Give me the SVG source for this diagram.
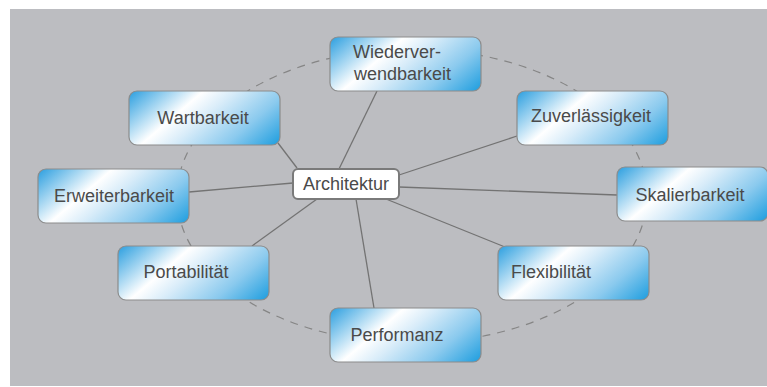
<svg xmlns="http://www.w3.org/2000/svg" width="767" height="387" viewBox="0 0 767 387">
  <defs>
    <linearGradient id="g" x1="0" y1="0" x2="1.2" y2="0.5">
      <stop offset="0" stop-color="#2a9edf"/>
      <stop offset="0.35" stop-color="#ffffff"/>
      <stop offset="0.5" stop-color="#d8ecf9"/>
      <stop offset="0.75" stop-color="#8bcaee"/>
      <stop offset="1" stop-color="#1f9edf"/>
    </linearGradient>
    <style>
      .n { fill: url(#g); stroke: #8c8c8c; stroke-width: 1.2; }
      .c { fill: #ffffff; stroke: #7a7a7a; stroke-width: 2; }
      .t { font-family: "Liberation Sans", Arial, sans-serif; font-size: 18px; fill: #4a4a4a; text-anchor: middle; }
      .l { stroke: #737373; stroke-width: 1.3; fill: none; }
      .d { stroke: #858585; stroke-width: 1.2; fill: none; stroke-dasharray: 8 7; }
    </style>
  </defs>
  <rect x="0" y="0" width="767" height="387" fill="#ffffff"/>
  <rect x="10" y="9" width="757" height="377" fill="#bcbdc1"/>
  <g id="connectors">
    <ellipse class="d" cx="412" cy="196" rx="235" ry="147"/>
    <line class="l" x1="339" y1="169" x2="377" y2="91"/>
    <line class="l" x1="297" y1="168" x2="278" y2="143"/>
    <line class="l" x1="399" y1="175" x2="517" y2="136"/>
    <line class="l" x1="293" y1="183" x2="189" y2="192"/>
    <line class="l" x1="399" y1="187" x2="617" y2="195"/>
    <line class="l" x1="317" y1="199" x2="252" y2="246"/>
    <line class="l" x1="386" y1="199" x2="505" y2="247"/>
    <line class="l" x1="356" y1="199" x2="374" y2="308"/>
  </g>
  <g id="wiederverwendbarkeit">
    <rect class="n" x="330" y="37" width="151" height="54" rx="8"/>
    <text class="t" x="353" y="58" style="text-anchor:start">Wiederver-</text>
    <text class="t" x="354" y="80" style="text-anchor:start">wendbarkeit</text>
  </g>
  <g id="wartbarkeit">
    <rect class="n" x="129" y="91" width="151" height="54" rx="8"/>
    <text class="t" x="203" y="124">Wartbarkeit</text>
  </g>
  <g id="zuverlaessigkeit">
    <rect class="n" x="517" y="91" width="151" height="54" rx="8"/>
    <text class="t" x="591" y="122">Zuverlässigkeit</text>
  </g>
  <g id="erweiterbarkeit">
    <rect class="n" x="38" y="169" width="151" height="54" rx="8"/>
    <text class="t" x="114" y="202">Erweiterbarkeit</text>
  </g>
  <g id="skalierbarkeit">
    <rect class="n" x="617" y="167" width="151" height="54" rx="8"/>
    <text class="t" x="690" y="201">Skalierbarkeit</text>
  </g>
  <g id="portabilitaet">
    <rect class="n" x="118" y="246" width="151" height="54" rx="8"/>
    <text class="t" x="186" y="278">Portabilität</text>
  </g>
  <g id="flexibilitaet">
    <rect class="n" x="498" y="246" width="151" height="54" rx="8"/>
    <text class="t" x="551" y="278">Flexibilität</text>
  </g>
  <g id="performanz">
    <rect class="n" x="330" y="308" width="151" height="54" rx="8"/>
    <text class="t" x="397" y="341">Performanz</text>
  </g>
  <g id="architektur">
    <rect class="c" x="293" y="169" width="106" height="30" rx="5"/>
    <text class="t" x="346" y="190">Architektur</text>
  </g>
</svg>
